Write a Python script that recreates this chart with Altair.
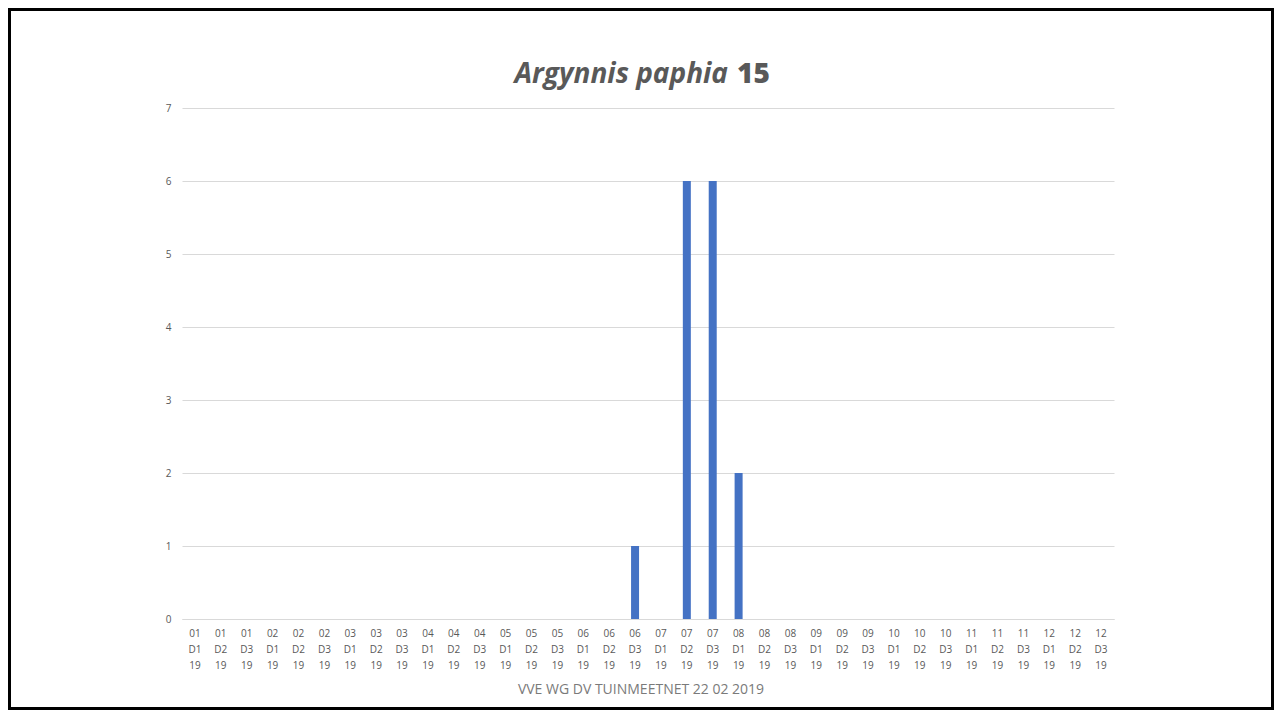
import altair as alt
import pandas as pd

months = ["01", "02", "03", "04", "05", "06", "07", "08", "09", "10", "11", "12"]
decades = ["D1", "D2", "D3"]
year = "19"
counts = [0, 0, 0, 0, 0, 0, 0, 0, 0, 0, 0, 0, 0, 0, 0, 0, 0, 1,
          0, 6, 6, 2, 0, 0, 0, 0, 0, 0, 0, 0, 0, 0, 0, 0, 0, 0]
y_ticks = [0, 1, 2, 3, 4, 5, 6, 7]
title_species = "Argynnis paphia"
title_number = "15"
footer = "VVE WG DV TUINMEETNET 22 02 2019"

cats = [f"{m} {d} {year}" for m in months for d in decades]
df = pd.DataFrame({"cat": cats, "n": counts})

W, H = 932, 511
PL, PT, PR, PB = 174, 100, 160, 91
FONT = "Open Sans"
GRAY = "#595959"

bars = alt.Chart(df).mark_bar(size=8, color="#4472C4").encode(
    x=alt.X("cat:N", sort=cats, title=None,
            axis=alt.Axis(labelAngle=0, labelExpr="split(datum.label, ' ')",
                          labelLineHeight=16, labelFontSize=10, labelColor=GRAY,
                          labelFont=FONT, ticks=False, domain=True, grid=False,
                          domainColor="#d9d9d9", labelPadding=9,
                          labelBaseline="top")),
    y=alt.Y("n:Q", title=None, scale=alt.Scale(domain=[0, 7], nice=False),
            axis=alt.Axis(values=y_ticks, format="d", labelFontSize=10,
                          labelColor=GRAY, labelFont=FONT, ticks=False,
                          domain=False, gridColor="#d9d9d9", labelPadding=11)),
)

one = alt.Data(values=[{}])

t1 = alt.Chart(one).mark_text(text=title_species, font=FONT, fontSize=28,
                              fontStyle="italic", fontWeight="bold", color=GRAY,
                              align="right", baseline="alphabetic").encode(
    x=alt.value(546), y=alt.value(-25))
t2 = alt.Chart(one).mark_text(text=title_number, font=FONT, fontSize=28,
                              fontWeight=800, color=GRAY,
                              align="left", baseline="alphabetic").encode(
    x=alt.value(555), y=alt.value(-25))
foot = alt.Chart(one).mark_text(text=footer, font=FONT, fontSize=14, color="#7a7a7a",
                                align="center", baseline="middle").encode(
    x=alt.value(459), y=alt.value(582))
border = alt.Chart(one).mark_rect(filled=False, stroke="black", strokeWidth=3).encode(
    x=alt.value(-PL + 1.5), x2=alt.value(W + PR - 1.5),
    y=alt.value(-PT + 1.5), y2=alt.value(H + PB - 1.5))

chart = alt.layer(bars, t1, t2, foot, border).properties(
    width=W, height=H,
    autosize=alt.AutoSizeParams(type="none"),
    padding={"left": PL, "top": PT, "right": PR, "bottom": PB},
).configure(background="white").configure_view(stroke=None)

chart.save("out.html", embed_options={"renderer": "svg", "actions": False})
